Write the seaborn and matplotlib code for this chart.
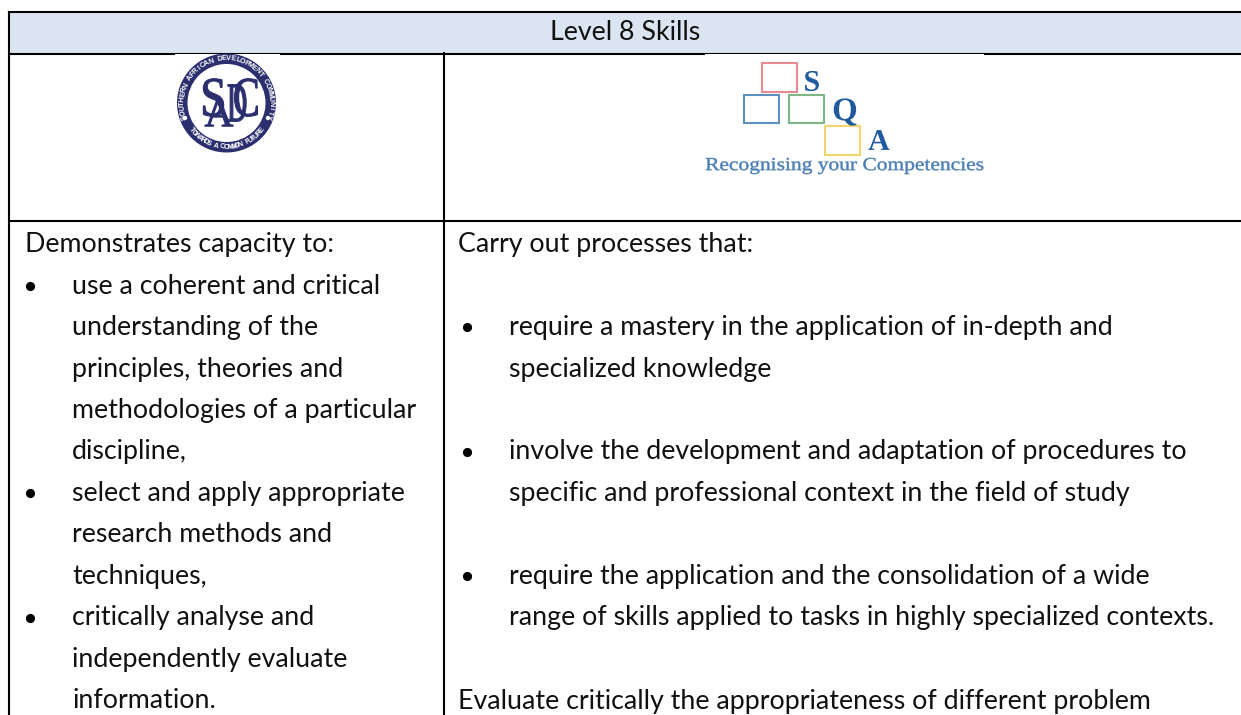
import math
import matplotlib
matplotlib.use("Agg")
import matplotlib.pyplot as plt
from matplotlib.patches import Rectangle, Circle, PathPatch
from matplotlib.text import TextPath
from matplotlib.font_manager import FontProperties
from matplotlib.transforms import Affine2D
import seaborn as sns

sns.set_theme(style="white")
plt.rcParams['font.family'] = ['Lato', 'DejaVu Sans']

TITLE = "Level 8 Skills"
LEFT_LINES = [
    "Demonstrates capacity to:", "use a coherent and critical", "understanding of the",
    "principles, theories and", "methodologies of a particular", "discipline,",
    "select and apply appropriate", "research methods and", "techniques,",
    "critically analyse and", "independently evaluate", "information.",
]
LEFT_BULLETS = [1, 6, 9]
RIGHT_LINES = [
    "Carry out processes that:", "",
    "require a mastery in the application of in-depth and", "specialized knowledge", "",
    "involve the development and adaptation of procedures to",
    "specific and professional context in the field of study", "",
    "require the application and the consolidation of a wide",
    "range of skills applied to tasks in highly specialized contexts.", "",
    "Evaluate critically the appropriateness of different problem",
]
RIGHT_BULLETS = [2, 5, 8]
RIGHT_FLUSH = [0, 11]
RING_TOP = "SOUTHERN AFRICAN DEVELOPMENT COMMUNITY"
RING_BOTTOM = "TOWARDS A COMMON FUTURE"
SQA_TAG = "Recognising your Competencies"

fig = plt.figure(figsize=(12.41, 7.15), dpi=100, facecolor="white")
ax = fig.add_axes([0, 0, 1, 1])
ax.set_xlim(0, 1241)
ax.set_ylim(715, 0)
ax.axis("off")

FS = 19.3
TC = "#111111"
BASE, STEP = 252, 41.5

# table grid
ax.add_patch(Rectangle((9, 12), 1232, 41, fc="#dbe5f1", ec="none"))
for x0, y0, x1, y1 in [(9, 12, 1241, 12), (9, 53.5, 1241, 53.5), (9, 220.5, 1241, 220.5),
                       (9, 12, 9, 715), (443.5, 53, 443.5, 715)]:
    ax.plot([x0, x1], [y0, y1], color="black", lw=1.5, solid_capstyle="projecting")

ax.text(625, 40.5, TITLE, ha="center", va="baseline", fontsize=FS, color=TC)

for i, s in enumerate(LEFT_LINES):
    y = BASE + STEP * i
    ax.text(25 if i == 0 else 72, y, s, va="baseline", fontsize=FS, color=TC)
    if i in LEFT_BULLETS:
        ax.plot([30], [y - 8], "o", ms=6.6, mew=0, color="black")
for i, s in enumerate(RIGHT_LINES):
    y = BASE + STEP * i
    ax.text(458 if i in RIGHT_FLUSH else 509, y, s, va="baseline", fontsize=FS, color=TC)
    if i in RIGHT_BULLETS:
        ax.plot([466.5], [y - 8], "o", ms=6.6, mew=0, color="black")


def glyph(s, cx, cy, h, sx=1.0, color="k", family="Liberation Serif", weight="normal", z=6, lw=0):
    """Text as a real path, stretched horizontally, centred at (cx, cy)."""
    tp = TextPath((0, 0), s, size=h, prop=FontProperties(family=family, weight=weight))
    bb = tp.get_extents()
    tr = (Affine2D().translate(-(bb.x0 + bb.x1) / 2, -(bb.y0 + bb.y1) / 2)
          .scale(sx, -1).translate(cx, cy))
    ax.add_patch(PathPatch(tr.transform_path(tp), fc=color, ec=color, lw=lw, zorder=z))


# SADC logo
NAVY = "#2b2f6e"
CX, CY = 226.5, 103
ax.add_patch(Rectangle((175, 53.6), 105, 3, fc="white", ec="none", zorder=3))
ax.add_patch(Circle((CX, CY), 49.5, fc=NAVY, ec="none", zorder=4))
ax.add_patch(Circle((CX, CY), 39, fc="white", ec="none", zorder=5))
for dx in (-41.5, 41.5):
    ax.add_patch(Circle((CX + dx, 118), 2.2, fc="white", ec="none", zorder=6))
RR = 44.3
for i, ch in enumerate(RING_TOP):
    a = math.radians(198 - i * (216 / (len(RING_TOP) - 1)))
    ax.text(CX + RR * math.cos(a), CY - RR * math.sin(a), ch, ha="center", va="center",
            rotation=math.degrees(a) - 90, rotation_mode="anchor", fontsize=5.2, color="white",
            family="Liberation Sans", weight="bold", zorder=7)
for i, ch in enumerate(RING_BOTTOM):
    a = math.radians(218 + i * (104 / (len(RING_BOTTOM) - 1)))
    ax.text(CX + RR * math.cos(a), CY - RR * math.sin(a), ch, ha="center", va="center",
            rotation=math.degrees(a) + 90, rotation_mode="anchor", fontsize=5.2, color="white",
            family="Liberation Sans", weight="bold", zorder=7)
for s, cx, cy, sx, h in [("S", 213.5, 97.5, 0.85, 56), ("A", 219, 113, 1.0, 40),
                         ("D", 237, 103, 0.5, 56), ("C", 246, 97.5, 0.72, 56)]:
    glyph(s, cx, cy, h, sx=sx, color=NAVY, lw=0.8)

# SQA logo
ax.add_patch(Rectangle((705, 53.6), 279, 3, fc="white", ec="none", zorder=3))
for x, y, c in [(762, 63, "#e88a8f"), (744, 94.5, "#5f8fbd"), (788.5, 94.5, "#7fb685"), (825, 126, "#f3d36c")]:
    ax.add_patch(Rectangle((x, y), 35, 28.5, fc="white", ec=c, lw=1.5, zorder=4))
for s, x, y, h in [("S", 812, 81, 30), ("Q", 845, 112, 33), ("A", 879, 140, 30)]:
    glyph(s, x, y, h, color="#1f5a9e", weight="bold", z=5)
glyph(SQA_TAG, 844.5, 166, 18.5, sx=1.16, color="#4a7fb5", z=5, lw=0.3)

fig.savefig("out.png", dpi=100)
